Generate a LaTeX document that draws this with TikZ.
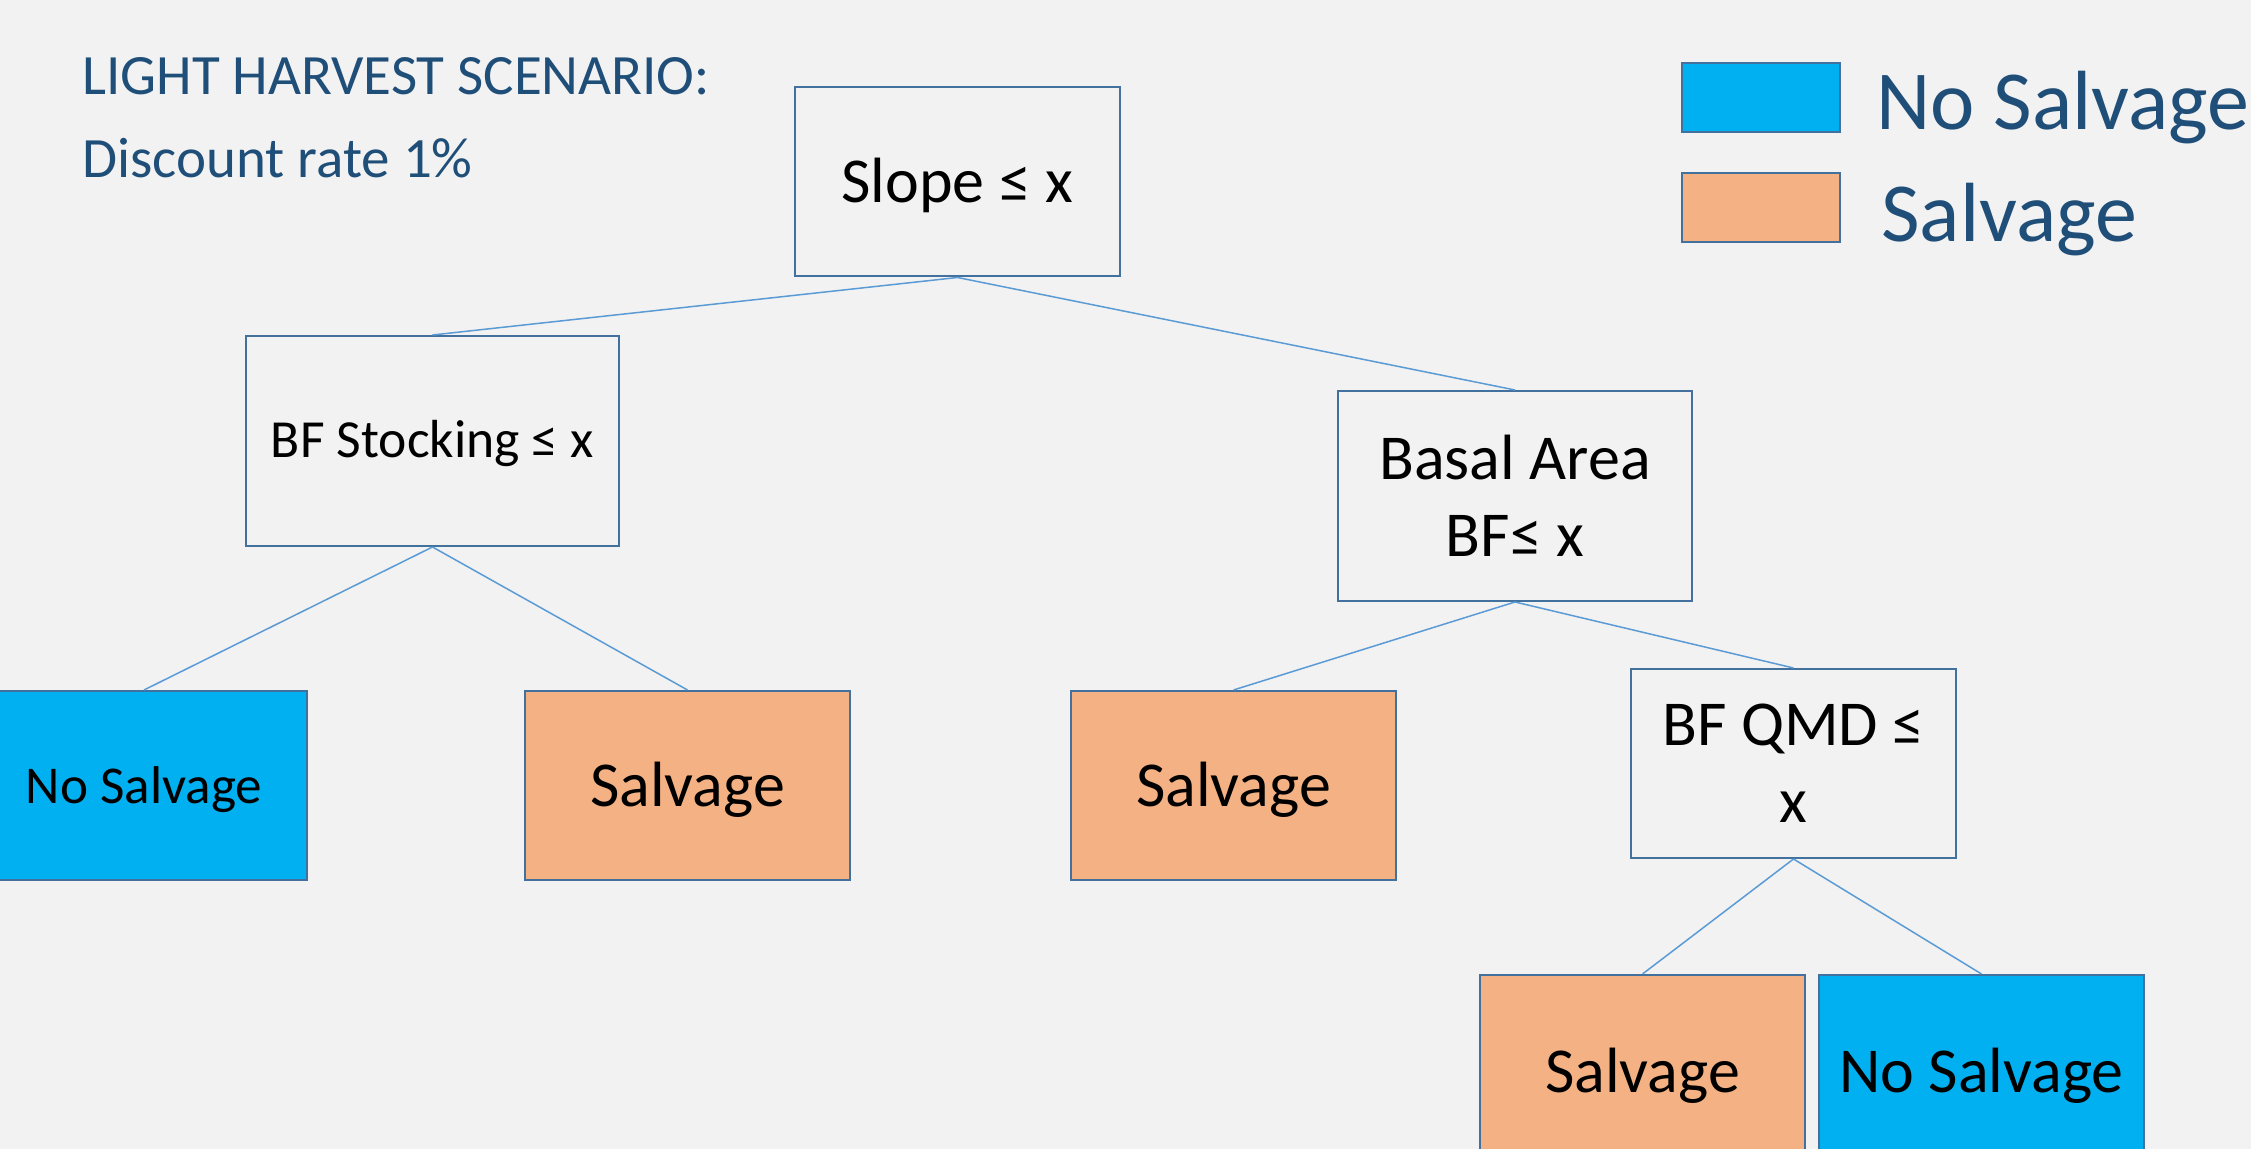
\documentclass[tikz,border=0pt]{standalone}
\usepackage{fontspec}
\setmainfont{Carlito}
\definecolor{bg}{HTML}{F2F2F2}
\definecolor{outl}{HTML}{41719C}
\definecolor{conn}{HTML}{5B9BD5}
\definecolor{nsblue}{HTML}{00B0F0}
\definecolor{sorange}{HTML}{F4B183}
\definecolor{titleblue}{HTML}{1F4E79}
\begin{document}
\begin{tikzpicture}[x=0.5pt,y=-0.5pt,
  box/.style={draw=outl,line width=1pt,inner sep=0pt,align=center,text=black,
    minimum width=162.5pt,minimum height=94.5pt},
  decision/.style={box,fill=bg},
  nosalv/.style={box,fill=nsblue},
  salv/.style={box,fill=sorange},
  link/.style={draw=conn,line width=0.75pt},
  big/.style={font=\fontsize{32}{38.5}\selectfont},
  oneline/.style={text depth=0pt,text height=#1},
  leaf/.style={font=\fontsize{32}{38}\selectfont,oneline=21.5pt},
  titletext/.style={text=titleblue,inner sep=0pt,anchor=base west,font=\fontsize{28.5}{34}\selectfont},
  legtext/.style={text=titleblue,inner sep=0pt,anchor=base west,font=\fontsize{42}{50}\selectfont},
  legbox/.style={draw=outl,line width=1pt,inner sep=0pt,minimum width=79pt,minimum height=34.5pt}
]
\fill[bg] (0,0) rectangle (2251,1149);
\useasboundingbox (0,0) rectangle (2251,1149);

\node[titletext] (t1) at (82,95) {LIGHT HARVEST SCENARIO:};
\node[titletext] (t2) at (82,178) {Discount rate 1\%};

\node[legbox,fill=nsblue] (lg1) at (1761,97.5) {};
\node[legbox,fill=sorange] (lg2) at (1761,208) {};
\node[legtext] (lt1) at (1876,130) {No Salvage};
\node[legtext] (lt2) at (1881,242) {Salvage};

\node[decision,big,oneline=21pt] (slope) at (957.5,182) {Slope ≤ x};
\node[decision,font=\fontsize{26.8}{32}\selectfont,oneline=17pt,minimum width=186.5pt,minimum height=105pt] (stock) at (432.5,441) {BF Stocking ≤ x};
\node[decision,big,minimum width=177pt,minimum height=105pt] (basal) at (1515,496) {Basal Area\\BF≤ x};
\node[nosalv,font=\fontsize{26.6}{32}\selectfont,oneline=18.5pt] (ns1) at (144,785.5) {No Salvage};
\node[salv,leaf] (s1) at (687.5,785.5) {Salvage};
\node[salv,leaf] (s2) at (1233.5,785.5) {Salvage};
\node[decision,big] (qmd) at (1793.5,763.5) {BF QMD ≤\\x};
\node[salv,leaf,oneline=22.5pt] (s3) at (1642.5,1069.5) {Salvage};
\node[nosalv,leaf,oneline=22.5pt] (ns3) at (1981.5,1069.5) {No Salvage};

\draw[link] (slope.south) -- (stock.north);
\draw[link] (slope.south) -- (basal.north);
\draw[link] (stock.south) -- (ns1.north);
\draw[link] (stock.south) -- (s1.north);
\draw[link] (basal.south) -- (s2.north);
\draw[link] (basal.south) -- (qmd.north);
\draw[link] (qmd.south) -- (s3.north);
\draw[link] (qmd.south) -- (ns3.north);
\end{tikzpicture}
\end{document}
